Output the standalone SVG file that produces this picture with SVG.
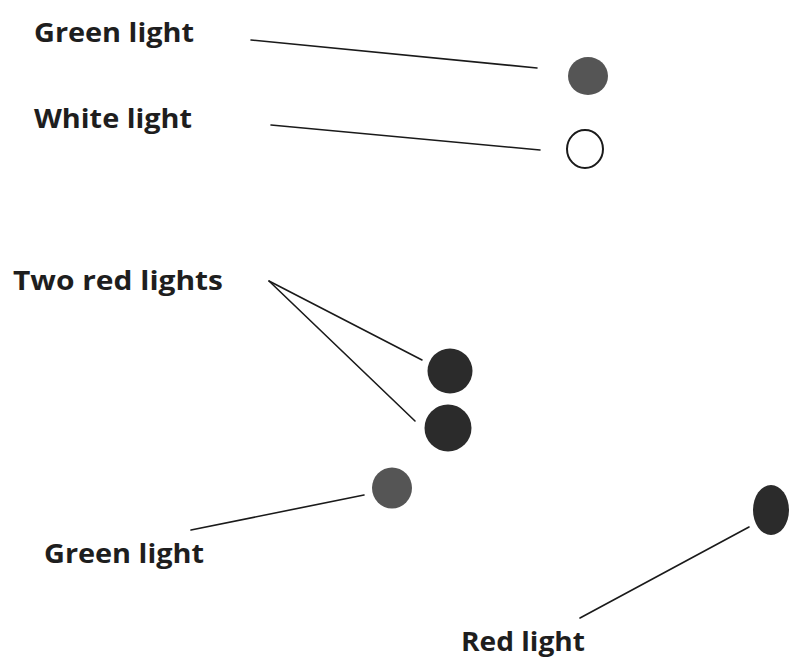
<svg xmlns="http://www.w3.org/2000/svg" width="789" height="659" viewBox="0 0 789 659">
  <style>
    .lbl { font-family: "Open Sans", "Liberation Sans", sans-serif; font-weight: bold; font-size: 27px; fill: #1e1e1e; }
    .ln { stroke: #1a1a1a; stroke-width: 1.6; fill: none; stroke-linecap: round; }
    .grn { fill: #555555; }
    .red { fill: #2b2b2b; }
    .wht { fill: #ffffff; stroke: #1a1a1a; stroke-width: 2; }
  </style>
  <rect width="789" height="659" fill="#ffffff"/>
  <g id="connectors">
    <line class="ln" x1="251" y1="40" x2="537" y2="68"/>
    <line class="ln" x1="271" y1="125" x2="540" y2="150"/>
    <line class="ln" x1="269" y1="281" x2="422" y2="360"/>
    <line class="ln" x1="269" y1="281" x2="415" y2="421"/>
    <line class="ln" x1="191" y1="530" x2="364" y2="495"/>
    <line class="ln" x1="580" y1="618" x2="749" y2="527"/>
  </g>
  <g id="green-light-top">
    <text class="lbl" x="34" y="42" textLength="160" lengthAdjust="spacingAndGlyphs">Green light</text>
    <ellipse class="grn" cx="588" cy="76" rx="20" ry="19"/>
  </g>
  <g id="white-light">
    <text class="lbl" x="34" y="128" textLength="158" lengthAdjust="spacingAndGlyphs">White light</text>
    <ellipse class="wht" cx="585" cy="149" rx="18" ry="19"/>
  </g>
  <g id="two-red-lights">
    <text class="lbl" x="13" y="290" textLength="210" lengthAdjust="spacingAndGlyphs">Two red lights</text>
    <ellipse class="red" cx="450" cy="371" rx="22.5" ry="22.5"/>
    <ellipse class="red" cx="448" cy="428" rx="23.5" ry="23.5"/>
  </g>
  <g id="green-light-bottom">
    <text class="lbl" x="44" y="563" textLength="160" lengthAdjust="spacingAndGlyphs">Green light</text>
    <ellipse class="grn" cx="392" cy="488" rx="20" ry="20.5"/>
  </g>
  <g id="red-light">
    <text class="lbl" x="461" y="651" textLength="124" lengthAdjust="spacingAndGlyphs">Red light</text>
    <ellipse class="red" cx="771" cy="510" rx="18" ry="25"/>
  </g>
</svg>
